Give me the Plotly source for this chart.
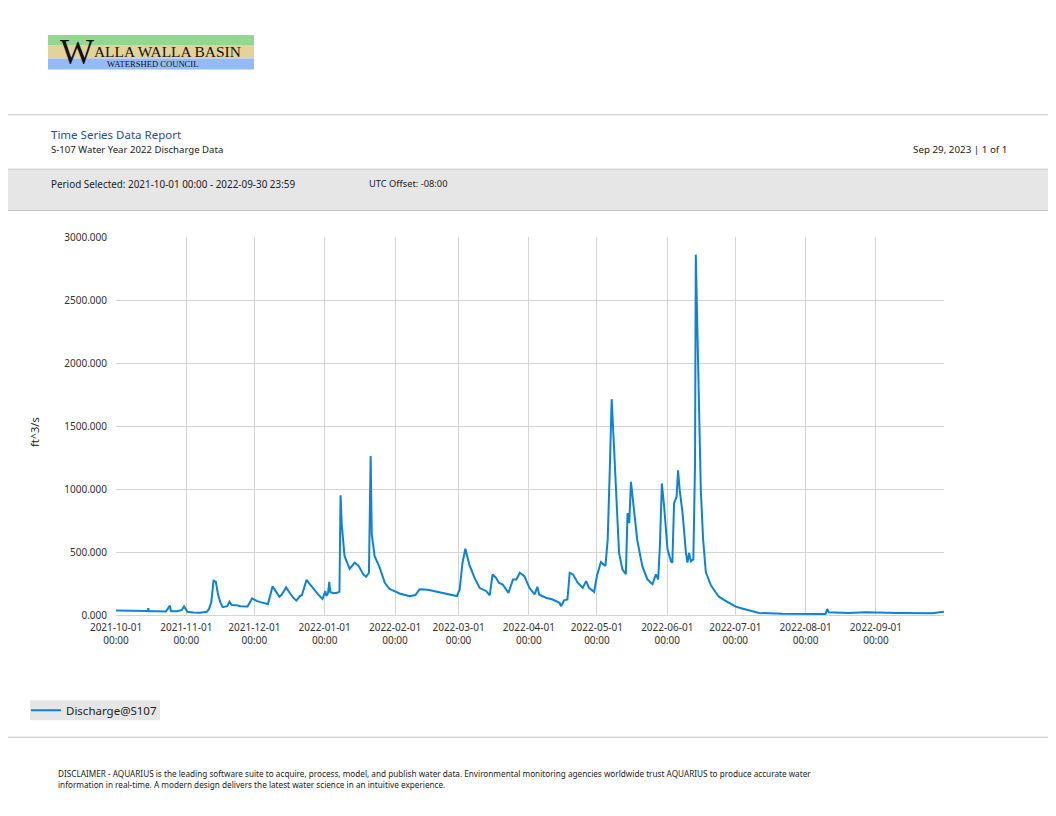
import plotly.graph_objects as go

# Discharge at S107, water year 2022
dates = [
    "2021-10-01", "2021-10-04", "2021-10-08", "2021-10-12", "2021-10-15 00:00", "2021-10-15 06:00",
    "2021-10-15 12:00", "2021-10-19", "2021-10-23", "2021-10-24 18:00", "2021-10-25 06:00",
    "2021-10-28", "2021-10-30", "2021-10-31", "2021-11-01 12:00", "2021-11-04", "2021-11-07",
    "2021-11-10", "2021-11-11", "2021-11-12", "2021-11-13", "2021-11-14", "2021-11-15",
    "2021-11-16", "2021-11-17", "2021-11-19", "2021-11-20", "2021-11-21", "2021-11-23",
    "2021-11-25", "2021-11-28", "2021-11-30", "2021-12-02", "2021-12-04", "2021-12-07",
    "2021-12-09", "2021-12-10", "2021-12-12", "2021-12-13", "2021-12-15", "2021-12-16",
    "2021-12-18", "2021-12-19 12:00", "2021-12-21", "2021-12-22", "2021-12-24", "2021-12-25",
    "2021-12-27", "2021-12-29", "2021-12-31", "2022-01-01 06:00", "2022-01-01 18:00",
    "2022-01-02 12:00", "2022-01-03", "2022-01-03 12:00", "2022-01-05", "2022-01-06 12:00",
    "2022-01-07 12:00", "2022-01-08", "2022-01-08 12:00", "2022-01-09 18:00", "2022-01-12",
    "2022-01-14 06:00", "2022-01-16", "2022-01-18", "2022-01-19 06:00", "2022-01-20 12:00",
    "2022-01-21 06:00", "2022-01-21 18:00", "2022-01-23", "2022-01-25", "2022-01-27 12:00",
    "2022-01-29 12:00", "2022-02-03", "2022-02-07 12:00", "2022-02-10", "2022-02-11 18:00",
    "2022-02-13", "2022-02-14 18:00", "2022-02-16", "2022-02-18 12:00", "2022-02-22",
    "2022-02-25", "2022-02-28 06:00", "2022-03-01 12:00", "2022-03-02 18:00", "2022-03-04",
    "2022-03-05 18:00", "2022-03-08", "2022-03-10 06:00", "2022-03-13 06:00", "2022-03-14 18:00",
    "2022-03-16", "2022-03-17 12:00", "2022-03-18 18:00", "2022-03-20 12:00", "2022-03-23",
    "2022-03-25", "2022-03-26 12:00", "2022-03-28", "2022-03-30", "2022-04-01 06:00",
    "2022-04-03 12:00", "2022-04-04 18:00", "2022-04-05 12:00", "2022-04-08 12:00",
    "2022-04-11 12:00", "2022-04-14 12:00", "2022-04-15 06:00", "2022-04-16 12:00",
    "2022-04-18", "2022-04-19", "2022-04-20 12:00", "2022-04-22 12:00", "2022-04-24 18:00",
    "2022-04-26 06:00", "2022-04-27 12:00", "2022-04-29 18:00", "2022-05-01", "2022-05-02 18:00",
    "2022-05-04 18:00", "2022-05-05 18:00", "2022-05-06 18:00", "2022-05-07 12:00",
    "2022-05-08 06:00", "2022-05-09 03:00", "2022-05-10 18:00", "2022-05-12 06:00",
    "2022-05-13 18:00", "2022-05-14 12:00", "2022-05-15 06:00", "2022-05-16", "2022-05-17 12:00",
    "2022-05-18 18:00", "2022-05-21", "2022-05-23 06:00", "2022-05-25 12:00", "2022-05-27",
    "2022-05-28", "2022-05-28 18:00", "2022-05-29 15:00", "2022-05-30 15:00", "2022-06-01 03:00",
    "2022-06-02 15:00", "2022-06-03 06:00", "2022-06-04", "2022-06-05 03:00", "2022-06-05 18:00",
    "2022-06-06 12:00", "2022-06-07 18:00", "2022-06-09 06:00", "2022-06-09 22:00",
    "2022-06-10 15:00", "2022-06-11 10:00", "2022-06-12 12:00", "2022-06-13 06:00",
    "2022-06-13 14:00", "2022-06-14 08:00", "2022-06-15", "2022-06-15 19:00", "2022-06-16 19:00",
    "2022-06-18", "2022-06-20 06:00", "2022-06-23 18:00", "2022-06-27 12:00", "2022-07-01 06:00",
    "2022-07-04", "2022-07-07", "2022-07-11 12:00", "2022-07-21 18:00", "2022-08-01",
    "2022-08-09 18:00", "2022-08-10 12:00", "2022-08-11 06:00", "2022-08-20", "2022-08-27 12:00",
    "2022-09-11", "2022-09-25 18:00", "2022-09-30 23:00",
]
discharge = [
    35, 33, 31, 30, 31, 55,
    30, 30, 28, 74, 30,
    30, 40, 68, 25, 20, 18,
    25, 48, 100, 272, 265, 160,
    100, 62, 70, 105, 80, 78,
    70, 68, 132, 112, 100, 87,
    227, 200, 145, 160, 219, 190,
    140, 114, 148, 160, 280, 255,
    206, 165, 127, 190, 150,
    175, 264, 180, 172, 176,
    185, 950, 720, 467, 367,
    415, 388, 322, 303, 335,
    1262, 640, 467, 388, 256,
    208, 171, 149, 158, 203,
    205, 203, 198, 189, 176,
    163, 150, 203, 415, 526,
    400, 296, 216, 189, 155,
    322, 296, 256, 242, 176,
    282, 282, 335, 308, 216,
    163, 224, 163, 137,
    123, 97, 70, 117,
    123, 335, 322, 256, 216,
    269, 216, 184, 309, 420,
    388, 598, 1202, 1713,
    1438, 1070, 493, 362,
    323, 808, 730, 1057, 808,
    598, 388, 283, 244, 323,
    283, 545, 1044, 860, 519,
    427, 415, 887, 939, 1149,
    991, 808, 493, 415,
    493, 427, 441, 1200,
    2860, 2178, 1495, 997, 604,
    341, 236, 145, 105, 66,
    52, 39, 16, 10, 8,
    8, 47, 21, 16, 21,
    16, 13, 26,
]

series_name = "Discharge@S107"
months = ["2021-10-01", "2021-11-01", "2021-12-01", "2022-01-01", "2022-02-01", "2022-03-01",
          "2022-04-01", "2022-05-01", "2022-06-01", "2022-07-01", "2022-08-01", "2022-09-01"]
month_labels = [m + "<br>00:00" for m in months]
y_ticks = [0, 500, 1000, 1500, 2000, 2500, 3000]

# the page body adds an 8px margin, so the figure is 16px smaller than the window
OFF = 8
W, H = 1056 - 2 * OFF, 816 - 2 * OFF
L, T = 116 - OFF, 236.5 - OFF
R, B = W - (944 - OFF), H - (615.5 - OFF)
PW, PH = W - L - R, H - T - B


def px(x):
    # page x (window pixels) -> paper fraction
    return (x - OFF - L) / PW


def py(y):
    return 1 - (y - OFF - T) / PH


FONT = "Noto Sans"

fig = go.Figure()
fig.add_trace(go.Scatter(
    x=dates, y=discharge, mode="lines", name=series_name,
    line=dict(color="#0B84D8", width=2),
))

shapes = [
    # logo bands
    dict(type="rect", xref="paper", yref="paper", x0=px(48), x1=px(254), y0=py(44), y1=py(34),
         fillcolor="#92D98F", line=dict(width=0), layer="below"),
    dict(type="rect", xref="paper", yref="paper", x0=px(48), x1=px(254), y0=py(57.5), y1=py(44),
         fillcolor="#E3D398", line=dict(width=0), layer="below"),
    dict(type="rect", xref="paper", yref="paper", x0=px(48), x1=px(254), y0=py(68.5), y1=py(57.5),
         fillcolor="#93BBFA", line=dict(width=0), layer="below"),
    # separators
    dict(type="line", xref="paper", yref="paper", x0=px(0), x1=px(1056), y0=py(114), y1=py(114),
         line=dict(color="#C4C4C4", width=1)),
    dict(type="rect", xref="paper", yref="paper", x0=px(-2), x1=px(1058), y0=py(210), y1=py(168.5),
         fillcolor="#E6E6E6", line=dict(color="#C4C4C4", width=1), layer="below"),
    dict(type="line", xref="paper", yref="paper", x0=px(0), x1=px(1056), y0=py(738), y1=py(738),
         line=dict(color="#C4C4C4", width=1)),
    # legend backdrop
    dict(type="rect", xref="paper", yref="paper", x0=px(30), x1=px(160), y0=py(721), y1=py(701),
         fillcolor="#E6E6E6", line=dict(width=0), layer="below"),
]


def note(x, y, text, size, color="#222222", family=FONT, xanchor="left", **kw):
    return dict(xref="paper", yref="paper", x=px(x), y=py(y), text=text, showarrow=False,
                xanchor=xanchor, yanchor="middle", font=dict(family=family, size=size, color=color),
                **kw)


annotations = [
    note(58, 51, "W", 36, color="#111111", family="Liberation Serif"),
    note(92, 50.5, "ALLA WALLA BASIN", 15.4, color="#111111", family="Liberation Serif"),
    note(105, 63, "WATERSHED COUNCIL", 8.6, color="#111111", family="Liberation Serif"),
    note(49, 134, "Time Series Data Report", 11.5, color="#2A4AA8"),
    note(49, 149, "S-107 Water Year 2022 Discharge Data", 9.6),
    note(1009, 149, "Sep 29, 2023 | 1 of 1", 9.8, xanchor="right"),
    note(49, 183, "Period Selected: 2021-10-01 00:00 - 2022-09-30 23:59", 9.9),
    note(367, 183, "UTC Offset: -08:00", 9.3),
    note(35, 432, "ft^3/s", 11, xanchor="center", textangle=-90),
    note(56, 774, "DISCLAIMER - AQUARIUS is the leading software suite to acquire, process, model, and "
                  "publish water data. Environmental monitoring agencies worldwide trust AQUARIUS to "
                  "produce accurate water", 8.2),
    note(56, 785, "information in real-time. A modern design delivers the latest water science in an "
                  "intuitive experience.", 8.2),
]

fig.update_layout(
    width=W, height=H,
    margin=dict(l=L, r=R, t=T, b=B),
    paper_bgcolor="white", plot_bgcolor="white",
    font=dict(family=FONT, size=10, color="#333333"),
    shapes=shapes,
    annotations=annotations,
    showlegend=True,
    legend=dict(x=px(26), y=py(711), xanchor="left", yanchor="middle",
                bgcolor="rgba(0,0,0,0)",
                font=dict(size=11.5, color="#222222"), borderwidth=0, itemwidth=30),
    xaxis=dict(
        range=["2021-10-01", "2022-09-30 23:59"],
        tickmode="array", tickvals=months, ticktext=month_labels,
        showgrid=True, gridcolor="#D4D4D4", gridwidth=1,
        showline=False, zeroline=False, ticks="", ticklabelstandoff=5,
        tickfont=dict(size=10, color="#333333"),
    ),
    yaxis=dict(
        range=[0, 3000], tickmode="array", tickvals=y_ticks, tickformat=".3f",
        showgrid=True, gridcolor="#D4D4D4", gridwidth=1,
        zeroline=True, zerolinecolor="#D4D4D4", zerolinewidth=1,
        showline=False, ticks="", ticklabelstandoff=8,
        tickfont=dict(size=10, color="#333333"),
    ),
)

fig.write_html("out.html")
